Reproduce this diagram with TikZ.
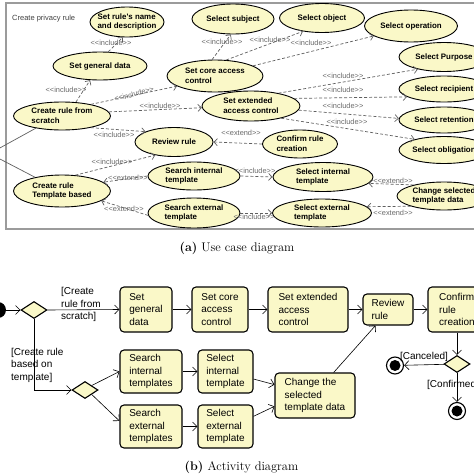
\documentclass[tikz,border=0pt]{standalone}
\usepackage{fontspec}
\newfontfamily\ucfont[Ligatures=TeXOff]{Liberation Sans}
\usetikzlibrary{shapes.geometric,arrows.meta}
\definecolor{ucfill}{RGB}{250,248,200}
\definecolor{dashgray}{RGB}{95,95,95}
\definecolor{lblgray}{RGB}{105,105,105}
\definecolor{framegray}{RGB}{155,155,155}
\newcommand\ucase[5]{\node[uc,minimum width=#3pt,minimum height=#4pt] (#1) at (#2) {};
  \node[uct] (#1T) at (#1) {#5};}
\tikzset{
  uc/.style={ellipse, draw=black, line width=0.9pt, fill=ucfill, inner sep=0pt},
  uct/.style={font=\ucfont\bfseries\fontsize{7.9}{9.8}\selectfont, align=left, inner sep=0pt},
  inc/.style={draw=dashgray, line width=0.7pt, dash pattern=on 3pt off 2pt, -{Straight Barb[length=3.5pt,width=7pt]}},
  lbl/.style={font=\ucfont\fontsize{7.4}{8}\selectfont, text=lblgray, inner sep=0pt},
  actorline/.style={draw=dashgray, line width=0.7pt},
  abox/.style={draw=black, line width=1.1pt, rounded corners=4pt, fill=ucfill, inner sep=0pt, align=left, font=\ucfont\fontsize{10}{12.5}\selectfont},
  act/.style={draw=black, line width=0.6pt, -{Straight Barb[length=4.5pt,width=9pt]}},
  dec/.style={diamond, draw=black, line width=1.1pt, fill=ucfill, inner sep=0pt, minimum width=26pt, minimum height=17pt},
  fin/.style={circle, draw=black, line width=1.1pt, minimum size=17pt, inner sep=0pt, path picture={\fill[black] (path picture bounding box.center) circle (5.5pt);}},
  ini/.style={circle, fill=black, minimum size=16pt, inner sep=0pt},
  guard/.style={font=\ucfont\fontsize{10}{12.5}\selectfont, align=left, inner sep=0pt},
  captext/.style={font=\fontsize{12.5}{15}\selectfont, inner sep=0pt}
}
\begin{document}
\begin{tikzpicture}[x=1pt,y=-1pt]
\useasboundingbox (0,0) rectangle (474,474);
\clip (0,0) rectangle (474,474);
% ---------- use case diagram ----------
\draw[framegray, line width=1.2pt] (6,3) rectangle (484,229);
\node[font=\ucfont\fontsize{7.5}{9}\selectfont, text=black!75, anchor=west, inner sep=0pt] (title) at (12,19) {Create privacy rule};

\ucase{srn}{127,22}{74}{30}{Set rule's name\\and description}
\ucase{ssub}{233,19}{82}{30}{Select subject}
\ucase{sobj}{322,18}{85}{29}{Select object}
\ucase{sop}{411,26}{93}{32}{Select operation}
\ucase{sgd}{100,66}{94}{28}{Set general data}
\ucase{scac}{215,76}{96}{32}{Set core access\\control}
\ucase{sec}{251,106}{98}{30}{Set extended\\access control}
\ucase{cfs}{62,116}{97}{28}{Create rule from\\scratch}
\ucase{rr}{174,142}{78}{29}{Review rule}
\ucase{crc}{300,144}{75}{28}{Confirm rule\\creation}
\ucase{crt}{62,191}{97}{32}{Create rule\\Template based}
\ucase{sit}{194,176}{92}{28}{Search internal\\template}
\ucase{set}{194,213}{92}{30}{Search external\\template}
\ucase{sint}{323,177}{100}{29}{Select internal\\template}
\ucase{sext}{322,213}{99}{28}{Select external\\template}
\ucase{csd}{444,196}{94}{28}{Change selected\\template data}
\ucase{spur}{444,57}{90}{29}{Select Purpose}
\ucase{srec}{444,89}{90}{26}{Select recipient}
\ucase{sret}{444,120}{90}{26}{Select retention}
\ucase{sobl}{444,150}{90}{27}{Select obligation}

\coordinate (actA) at (-2,149);
\coordinate (actB) at (-2,158);
\draw[actorline] (actA) -- (cfs.205);
\draw[actorline] (actB) -- (crt.153);

\draw[inc] (cfs.45) -- (sgd.235);
\draw[inc] (sgd.60) -- (srn.255);
\draw[inc] (cfs.22) -- (scac.195);
\draw[inc] (cfs.5) -- (sec.182);
\draw[inc] (scac.100) -- (ssub.262);
\draw[inc] (scac.55) -- (sobj.215);
\draw[inc] (scac.15) -- (sop.195);
\draw[inc] (sec.25) -- (spur.205);
\draw[inc] (sec.10) -- (srec.192);
\draw[inc] (sec.-5) -- (sret.178);
\draw[inc] (sec.-22) -- (sobl.160);
\draw[inc] (crc.180) -- (rr.0);
\draw[inc] (cfs.-22) -- (rr.160);
\draw[inc] (crt.50) -- (rr.215);
\draw[inc] (sit.180) -- (crt.12);
\draw[inc] (set.183) -- (crt.-14);
\draw[inc] (sit.0) -- (sint.180);
\draw[inc] (set.0) -- (sext.180);
\draw[inc] (csd.160) -- (sint.-8);
\draw[inc] (csd.197) -- (sext.8);

\node[lbl] (l1) at (66,90) {<<include>>};
\node[lbl] (l2) at (111,43) {<<include>>};
\node[lbl, rotate=15] (l3) at (134,94) {<<include>>};
\node[lbl] (l4) at (160,106) {<<include>>};
\node[lbl] (l5) at (222,42) {<<include>>};
\node[lbl] (l6) at (270,40) {<<include>>};
\node[lbl] (l7) at (311,43) {<<include>>};
\node[lbl] (l8) at (343,76) {<<include>>};
\node[lbl] (l9) at (343,90) {<<include>>};
\node[lbl] (l10) at (343,106) {<<include>>};
\node[lbl] (l11) at (347,122) {<<include>>};
\node[lbl] (l12) at (241,133) {<<extend>>};
\node[lbl] (l13) at (114,135) {<<include>>};
\node[lbl] (l14) at (112,162) {<<include>>};
\node[lbl] (l15) at (128,178) {<<extend>>};
\node[lbl] (l16) at (124,209) {<<extend>>};
\node[lbl] (l17) at (255,171) {<<include>>};
\node[lbl] (l18) at (254,217) {<<include>>};
\node[lbl] (l19) at (393,181) {<<extend>>};
\node[lbl] (l20) at (393,213) {<<extend>>};

\node[captext] (capa) at (237,248) {\textbf{(a)} Use case diagram};

% ---------- activity diagram ----------
\node[ini] (init) at (-2,310) {};
\node[dec] (d1) at (34,310) {};
\node[dec] (d2) at (85,390) {};
\node[dec] (d3) at (457,364) {};
\node[fin] (f1) at (395,365.5) {};
\node[fin] (f2) at (457,411) {};

\node[abox, minimum width=52pt, minimum height=45pt] (asgd) at (146,309.5) {Set\\general\\data};
\node[abox, minimum width=56pt, minimum height=45pt] (ascac) at (220,309.5) {Set core\\access\\control};
\node[abox, minimum width=80pt, minimum height=45pt] (asec) at (308,309.5) {Set extended\\access\\control};
\node[abox, minimum width=50pt, minimum height=31pt] (arr) at (388,309.5) {Review\\rule};
\node[abox, minimum width=58pt, minimum height=45pt] (acrc) at (457,309.5) {Confirm\\rule\\creation};
\node[abox, minimum width=62pt, minimum height=43pt] (asia) at (151,371.5) {Search\\internal\\templates};
\node[abox, minimum width=55pt, minimum height=43pt] (asla) at (225.5,371.5) {Select\\internal\\template};
\node[abox, minimum width=62pt, minimum height=43pt] (asea) at (151,426.5) {Search\\external\\templates};
\node[abox, minimum width=55pt, minimum height=43pt] (asle) at (225.5,426.5) {Select\\external\\template};
\node[abox, minimum width=80pt, minimum height=45pt] (acst) at (315,395.5) {Change the\\selected\\template data};

\draw[act] (init) -- (d1.west);
\draw[act] (d1.east) -- (asgd.west);
\draw[act] (d1.south) |- (d2.west);
\draw[act] (asgd) -- (ascac);
\draw[act] (ascac) -- (asec);
\draw[act] (asec) -- (arr);
\draw[act] (arr) -- (acrc);
\draw[act] (acrc) -- (d3);
\draw[act] (d3) -- (f1);
\draw[act] (d3) -- (f2);
\draw[act] (d2.north east) -- (asia.west);
\draw[act] (d2.south east) -- (asea.170);
\draw[act] (asia) -- (asla);
\draw[act] (asea) -- (asle);
\draw[act] (asla.-15) -- (acst.165);
\draw[act] (asle.20) -- (acst.195);
\draw[act] (acst.51) -- (arr.232);

\node[guard, anchor=west] (g1) at (61,304.5) {[Create\\rule from\\scratch]};
\node[guard, anchor=west] (g2) at (11,365) {[Create rule\\based on\\template]};
\node[guard] (g3) at (424,357) {[Canceled]};
\node[guard, anchor=west] (g4) at (427,385) {[Confirmed]};

\node[captext] (capb) at (241.5,467) {\textbf{(b)} Activity diagram};
\end{tikzpicture}
\end{document}
